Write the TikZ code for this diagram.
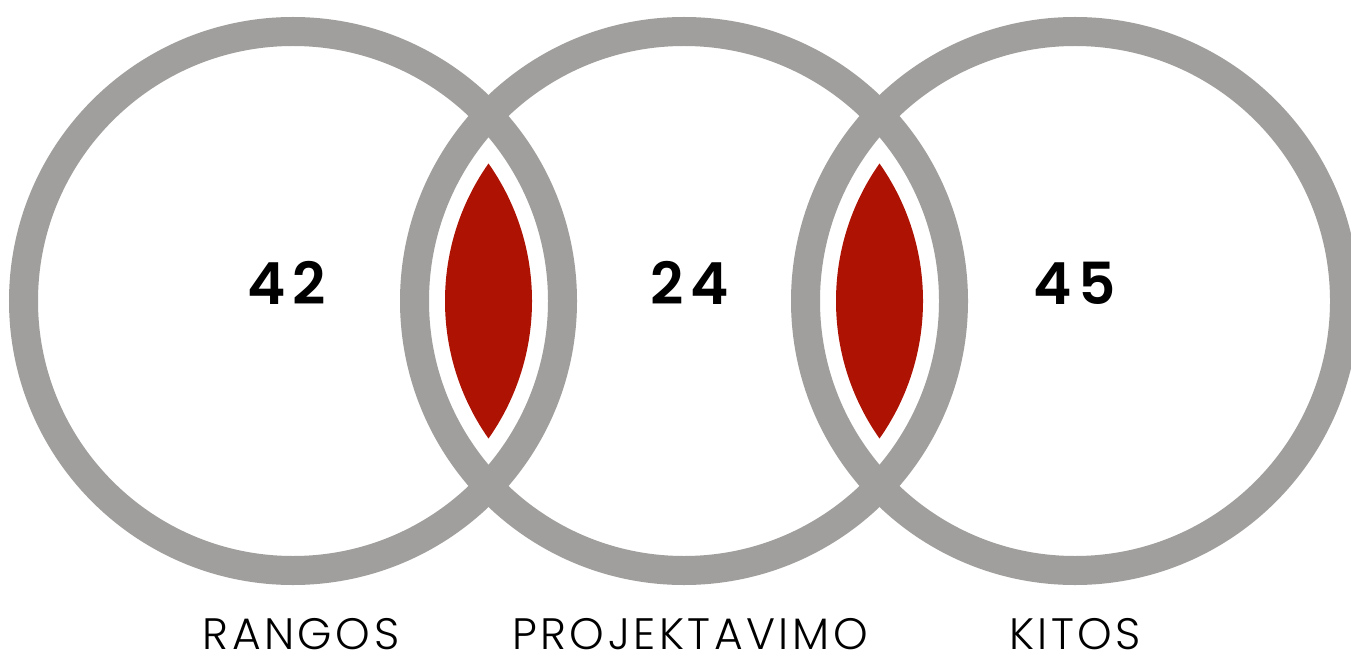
\documentclass[tikz,border=0pt]{standalone}
\usepackage{fontspec}
\IfFontExistsTF{Poppins Light}
  {\newfontfamily\lblfont[LetterSpace=8]{Poppins Light}}
  {\newfontfamily\lblfont[LetterSpace=8]{Poppins}}
\IfFontExistsTF{Poppins SemiBold}
  {\newfontfamily\numfont[LetterSpace=12]{Poppins SemiBold}}
  {\newfontfamily\numfont[LetterSpace=12,FakeBold=0]{Poppins Bold}}
\definecolor{ringgray}{HTML}{A19F9D}
\definecolor{lensred}{HTML}{AD1203}
\begin{document}
\begin{tikzpicture}[x=1pt,y=-1pt,
  ring/.style={draw=ringgray,line width=29pt},
  lens/.style={fill=lensred},
  num/.style={anchor=base,font=\fontsize{58}{58}\selectfont\numfont,inner sep=0pt},
  lbl/.style={anchor=base,font=\fontsize{44}{44}\selectfont\lblfont,inner sep=0pt}]
\useasboundingbox[fill=white] (0,0) rectangle (1351,652);
\coordinate (c1) at (293,301);
\coordinate (c2) at (684,301);
\coordinate (c3) at (1075,301);
\draw[ring] (c1) circle (269.5);
\draw[ring] (c2) circle (269.5);
\draw[ring] (c3) circle (269.5);
\begin{scope}
  \clip (c1) circle (239);
  \fill[lens] (c2) circle (239);
\end{scope}
\begin{scope}
  \clip (c2) circle (239);
  \fill[lens] (c3) circle (239);
\end{scope}
\node[num] (n1) at (287,304) {42};
\node[num] (n2) at (690,304) {24};
\node[num] (n3) at (1075,304) {45};
\node[lbl] (l1) at (301,649) {RANGOS};
\node[lbl] (l2) at (690,649) {PROJEKTAVIMO};
\node[lbl] (l3) at (1075,649) {KITOS};
\end{tikzpicture}
\end{document}
